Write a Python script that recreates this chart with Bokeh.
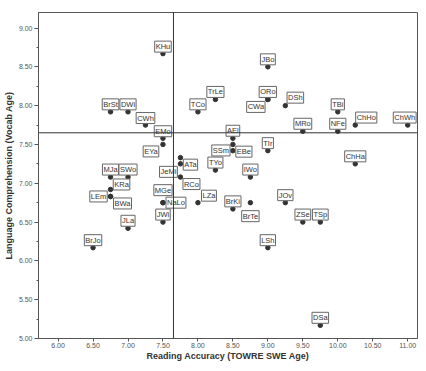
from bokeh.plotting import figure
from bokeh.models import ColumnDataSource, Span, FixedTicker, NumeralTickFormatter, Range1d
from bokeh.core.properties import value
from bokeh.embed import file_html
from bokeh.resources import INLINE

# ---- data ----
names = ["KHu", "BrSt", "DWi", "CWh", "EMo", "EYa", "TCo", "TrLe", "JBo", "ORo",
         "CWa", "DSh", "TBi", "ChHo", "ChWh", "MRo", "NFe", "AEl", "SSm", "EBe",
         "TIr", "ChHa", "TYo", "IWo", "ATa", "JeMi", "RCo", "MGe", "NaLo", "JWi",
         "LZa", "BrKi", "BrTe", "JOv", "ZSe", "TSp", "LSh", "DSa", "MJa", "SWo",
         "KRa", "LEm", "BWa", "JLa", "BrJo"]
reading_acc = [7.5, 6.75, 7.0, 7.25, 7.5, 7.5, 8.0, 8.25, 9.0, 9.0,
               9.0, 9.25, 10.0, 10.25, 11.0, 9.5, 10.0, 8.5, 8.5, 8.5,
               9.0, 10.25, 8.25, 8.75, 7.75, 7.75, 7.75, 7.5, 7.5, 7.5,
               8.0, 8.5, 8.75, 9.25, 9.5, 9.75, 9.0, 9.75, 6.75, 7.0,
               6.75, 6.75, 6.75, 7.0, 6.5]
vocab_age = [8.67, 7.92, 7.92, 7.75, 7.58, 7.5, 7.92, 8.08, 8.5, 8.08,
             8.08, 8.0, 7.92, 7.75, 7.75, 7.67, 7.67, 7.58, 7.5, 7.42,
             7.42, 7.25, 7.17, 7.08, 7.33, 7.25, 7.08, 6.75, 6.75, 6.5,
             6.75, 6.67, 6.75, 6.75, 6.5, 6.5, 6.17, 5.17, 7.08, 7.08,
             6.92, 6.83, 6.83, 6.42, 6.17]
mean_reading = 7.65
mean_vocab = 7.65
x_ticks = [6.0, 6.5, 7.0, 7.5, 8.0, 8.5, 9.0, 9.5, 10.0, 10.5, 11.0]
y_ticks = [5.0, 5.5, 6.0, 6.5, 7.0, 7.5, 8.0, 8.5, 9.0]

# label placement (screen px, style only; dy positive = up)
lbl_dx = [0, 0, 0, 0, 0, -12, 0, 0, 0, 0,
          -12, 10, 0, 11, -3, 0, 0, 0, -12, 11,
          0, 0, 0, 0, 10, -12, 11, 0, 13, 0,
          11, 0, 0, 0, 0, 0, 0, 0, 0, 0,
          11, -12, 12, 0, 0]
lbl_dy = [7, 7.5, 7.5, 7, 7, -7, 7.5, 7.5, 7.5, 7.5,
          -7.5, 8, 7.5, 7.5, 7.5, 7.5, 7.5, 7.5, -6, -1,
          7.5, 7.5, 7.5, 7.5, -7, -8, -7, 12.5, 0, 7.5,
          7, 7.5, -13.5, 7.5, 7.5, 7.5, 7.5, 7.5, 7.5, 7.5,
          5, 0, -7, 7.5, 7.5]

src = ColumnDataSource(dict(name=names, x=reading_acc, y=vocab_age,
                            dx=lbl_dx, dy=[-d for d in lbl_dy]))

FONT = "Liberation Sans"

p = figure(width=418, height=363, output_backend="svg", toolbar_location=None,
           x_range=Range1d(5.72, 11.14), y_range=Range1d(5.0, 9.2),
           min_border_left=2, min_border_right=1, min_border_top=12, min_border_bottom=1)
p.grid.visible = False
p.outline_line_color = "#555555"
p.outline_line_width = 1
p.background_fill_color = "white"
p.border_fill_color = "white"

p.add_layout(Span(location=mean_reading, dimension="height", line_color="#333333", line_width=1))
p.add_layout(Span(location=mean_vocab, dimension="width", line_color="#333333", line_width=1))

p.scatter("x", "y", source=src, size=4.5, color="#333333")

p.text(x="x", y="y", text="name", source=src, x_offset="dx", y_offset="dy",
       text_align="center", text_baseline="middle", text_font=value(FONT),
       text_font_size="7.5px", text_color="#333333",
       background_fill_color="white", border_line_color="#666666",
       border_line_width=1, padding=1)

for ax in (p.xaxis[0], p.yaxis[0]):
    ax.axis_line_color = "#555555"
    ax.major_tick_line_color = "#555555"
    ax.minor_tick_line_color = "#555555"
    ax.major_tick_in = 0
    ax.minor_tick_out = 2
    ax.minor_tick_in = 0
    ax.major_label_text_font = FONT
    ax.major_label_text_font_size = "7px"
    ax.major_label_text_color = "#555555"
    ax.axis_label_text_font = FONT
    ax.axis_label_text_font_size = "9px"
    ax.axis_label_text_font_style = "bold"
    ax.axis_label_text_color = "#333333"
    ax.formatter = NumeralTickFormatter(format="0.00")

p.yaxis.major_tick_out = 4
p.yaxis.major_label_standoff = 2
p.yaxis.axis_label_standoff = 2
p.xaxis.major_tick_out = 3
p.xaxis.major_label_standoff = 1
p.xaxis.axis_label_standoff = 0

p.xaxis.ticker = FixedTicker(ticks=x_ticks)
p.yaxis.ticker = FixedTicker(ticks=y_ticks, minor_ticks=[5.25, 5.75, 6.25, 6.75, 7.25, 7.75, 8.25, 8.75])
p.xaxis.axis_label = "Reading Accuracy (TOWRE SWE Age)"
p.yaxis.axis_label = "Language Comprehension (Vocab Age)"

open("out.html", "w").write(file_html(p, INLINE))
